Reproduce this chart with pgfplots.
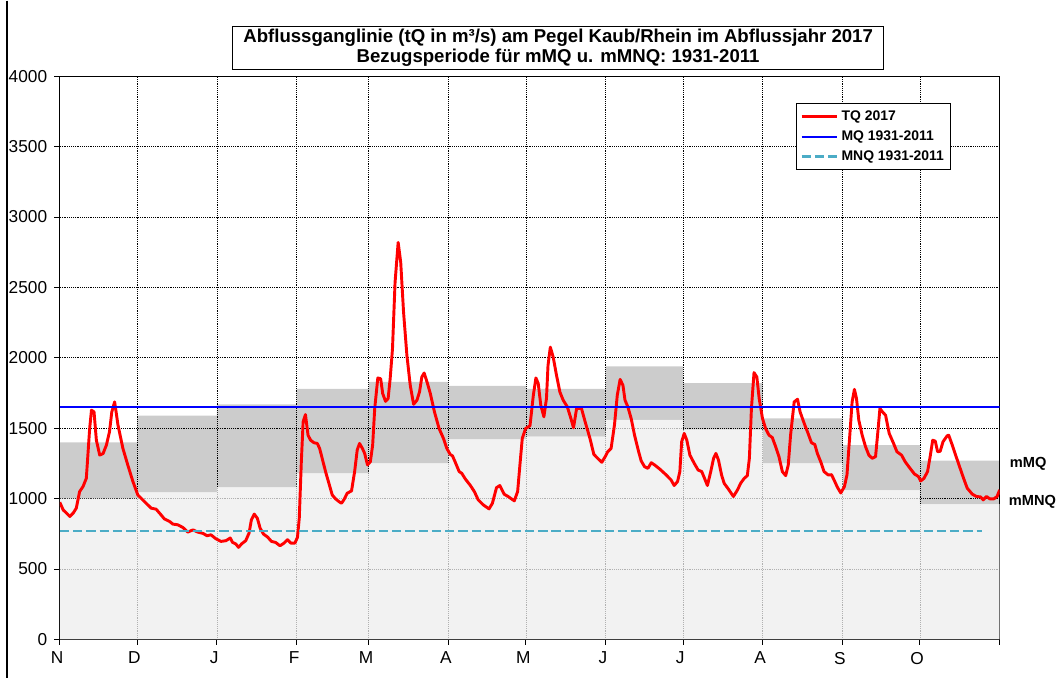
\documentclass[border=0pt]{standalone}
\usepackage{fontspec}
\setmainfont{Liberation Sans}
\usepackage{pgfplots}
\pgfplotsset{compat=1.18}
\usepgfplotslibrary{fillbetween}
\usepackage{pgfplotstable}

\pgfplotstableread{
d mnq mq
0 1000 1400
30 1045 1590
61 1080 1670
92 1180 1780
120 1250 1830
151 1420 1800
181 1440 1780
212 1560 1940
242 1490 1820
273 1250 1570
304 1060 1380
334 960 1270
365 960 1270
}\bands

\pgfplotstableread{
d q
0 974
1.3 920
2.6 897
3.9 873
5.2 897
6.4 932
7.7 1050
9.0 1085
10.3 1144
11.6 1498
12.3 1628
13.3 1616
14.2 1415
15.5 1309
16.8 1320
18.1 1380
19.3 1475
20.2 1616
21.3 1687
22.6 1522
24.5 1357
26.4 1239
28.4 1121
30.3 1026
32.2 991
34.2 955
35.5 932
37.4 925
39.3 885
40.6 856
42.6 838
43.9 819
45.8 814
47.8 795
49.7 762
51.7 778
53.6 762
55.6 753
57.2 736
58.7 743
60.6 715
62.6 696
64.5 701
66.2 720
67.1 689
68.4 677
69.4 654
70.7 680
72.2 701
73.5 755
74.4 849
75.5 890
76.7 861
77.8 790
79.1 748
80.7 727
82.2 696
83.8 689
85.5 665
87.1 684
88.4 708
89.7 684
91.3 684
92.3 725
93.0 861
93.8 1262
94.5 1546
95.4 1597
96.4 1451
97.4 1415
98.7 1397
100.0 1392
100.9 1357
101.9 1286
103.2 1192
104.5 1109
105.8 1026
107.1 998
108.4 979
109.4 967
110.3 991
111.6 1038
113.3 1055
114.5 1192
115.5 1345
116.4 1392
117.5 1357
118.4 1321
119.5 1239
120.6 1262
121.5 1380
122.3 1640
123.5 1857
124.6 1852
125.4 1746
126.5 1691
127.5 1710
128.3 1852
129.2 2064
130.2 2536
131.4 2820
132.4 2678
133.5 2324
134.8 2017
136.1 1805
137.4 1670
138.7 1699
139.7 1758
140.6 1864
141.5 1892
142.6 1829
143.9 1746
145.5 1616
147.3 1498
149.0 1427
150.3 1357
151.6 1314
152.5 1304
153.5 1262
155.1 1192
156.1 1180
157.5 1139
159.3 1097
161.0 1050
162.5 991
164.5 955
166.7 927
168.0 967
169.6 1078
170.9 1093
172.6 1031
174.1 1015
176.5 984
177.8 1050
178.8 1262
179.6 1427
180.9 1498
182.6 1517
183.9 1734
184.9 1857
185.8 1818
186.8 1663
188.0 1581
189.0 1711
189.6 1946
190.5 2076
191.6 2006
192.9 1876
194.2 1758
195.5 1699
197.1 1652
198.5 1569
199.5 1503
200.7 1640
202.6 1640
204.2 1534
205.9 1427
207.4 1314
209.3 1279
210.5 1258
211.8 1298
212.8 1333
214.1 1357
215.4 1522
216.5 1734
217.6 1847
218.7 1805
219.5 1699
220.6 1652
221.9 1569
223.2 1451
224.8 1333
225.8 1267
227.1 1227
228.4 1215
229.7 1255
231.0 1239
233.0 1210
235.5 1168
237.4 1132
238.6 1093
239.9 1121
240.8 1192
241.5 1404
242.5 1463
243.5 1415
244.7 1309
246.4 1250
247.9 1203
249.3 1192
250.5 1139
251.5 1093
252.8 1192
253.9 1286
254.8 1321
255.8 1274
257.0 1168
258.0 1109
259.6 1069
261.6 1015
263.2 1062
264.4 1109
265.8 1144
267.0 1163
267.8 1286
268.6 1640
269.6 1895
270.7 1864
271.6 1711
272.9 1569
274.1 1498
275.4 1451
276.7 1434
278.0 1369
279.3 1298
280.6 1192
281.9 1163
282.9 1239
283.8 1451
285.2 1687
286.5 1706
287.5 1616
289.1 1534
290.6 1463
291.9 1397
293.2 1385
294.2 1321
295.5 1262
296.8 1192
298.4 1168
299.7 1170
300.7 1132
302.0 1080
303.3 1040
304.7 1085
305.7 1168
306.8 1451
307.7 1687
308.6 1776
309.4 1711
310.3 1557
311.6 1451
312.9 1369
314.2 1309
315.5 1286
316.8 1298
317.7 1475
318.5 1640
319.5 1616
320.7 1592
322.1 1463
323.8 1392
325.1 1333
326.9 1309
328.3 1262
330.2 1215
331.9 1175
333.5 1156
334.3 1125
335.6 1144
337.0 1192
338.0 1298
339.0 1415
340.0 1408
340.9 1333
341.9 1336
343.0 1404
344.6 1446
345.2 1451
346.6 1380
347.9 1309
349.2 1239
350.9 1149
352.4 1074
354.4 1031
356.0 1015
357.6 1012
358.6 991
359.9 1015
361.2 998
362.7 998
364.0 1015
365.0 1062
}\tq

\pgfplotstableread{
d v
0 1650
365 1650
}\mq

\pgfplotstableread{
d v
0 770
358 770
}\mnq

\definecolor{mnqc}{RGB}{75,172,198}

\begin{document}
\begin{tikzpicture}
\begin{axis}[
  at={(0pt,0pt)}, anchor=south west,
  scale only axis, width=707.25pt, height=423.75pt,
  xmin=0, xmax=365, ymin=0, ymax=4000,
  xtick={0,30,61,92,120,151,181,212,242,273,304,334,365},
  xticklabels={N,D,J,F,M,A,M,J,J,A,S,O,},
  ytick={0,500,...,4000},
  /pgf/number format/assume math mode=true,
  /pgf/number format/1000 sep={},
  ticklabel style={font=\fontsize{13}{15}\selectfont},
  tick align=outside, tick pos=left,
  major tick length=4pt,
  tick style={black, line width=0.6pt},
  xticklabel style={xshift=-2pt, yshift=-2pt},
  yticklabel style={xshift=-2pt},
  grid=major,
  major grid style={black, densely dotted, line width=0.5pt},
  axis line style={black, line width=0.8pt},
  legend style={at={(0.783,0.952)}, anchor=north west, draw=black, line width=0.6pt,
    font=\bfseries\fontsize{10.5}{12.5}\selectfont, row sep=2.5pt, inner xsep=3pt, inner ysep=3pt},
  legend cell align=left,
  legend image code/.code={\draw[#1] (0pt,0pt) -- (27pt,0pt);},
]
% light region below mMNQ
\addplot[const plot, draw=none, fill=black!7, fill opacity=0.75, forget plot] table[x=d,y=mnq]{\bands} \closedcycle;
% band mMNQ..mMQ
\addplot[const plot, name path=top, draw=none, forget plot] table[x=d,y=mq]{\bands};
\addplot[const plot, name path=bot, draw=none, forget plot] table[x=d,y=mnq]{\bands};
\addplot[black, fill opacity=0.2, forget plot] fill between[of=top and bot];
% series
\addplot[red, line width=2.2pt, line join=round] table[x=d,y=q]{\tq};
\addlegendentry{TQ 2017}
\addplot[blue, line width=1.6pt] table[x=d,y=v]{\mq};
\addlegendentry{MQ 1931-2011}
\addplot[mnqc, line width=2.2pt, dash pattern=on 7pt off 3pt] table[x=d,y=v]{\mnq};
\addlegendentry{MNQ 1931-2011}
\end{axis}
\node[draw=black, line width=0.6pt, minimum width=490pt, minimum height=32pt, align=center,
  inner ysep=1pt, font=\bfseries\fontsize{14}{15.5}\selectfont, fill=white]
  at (375pt,445.2pt) {Abflussganglinie (tQ in m³/s) am Pegel Kaub/Rhein im Abflussjahr 2017\\Bezugsperiode für mMQ u. mMNQ: 1931-2011};
\node[anchor=west, font=\bfseries\fontsize{11}{13}\selectfont, inner sep=0pt] at (714.75pt,132pt) {mMQ};
\node[anchor=west, font=\bfseries\fontsize{11}{13}\selectfont, inner sep=0pt] at (714pt,103.5pt) {mMNQ};
\draw[black, line width=0.8pt] (-39.75pt,480.75pt) -- (-39.75pt,-29.25pt);
\path (-45pt,-29.25pt) rectangle (747pt,480.75pt);
\end{tikzpicture}
\end{document}
